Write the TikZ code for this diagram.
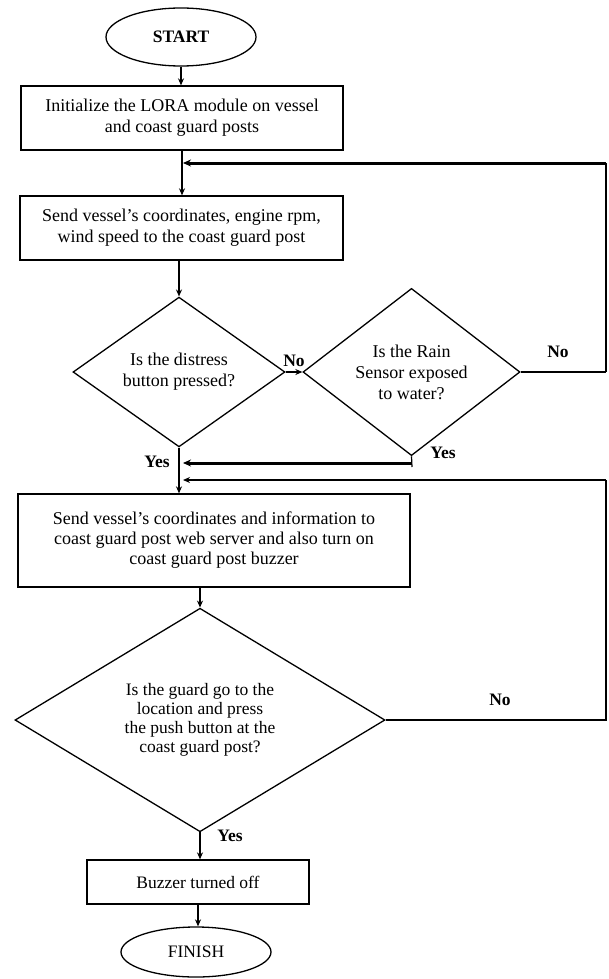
\documentclass[tikz,border=0pt]{standalone}
\usepackage{fontspec}
\setmainfont{Liberation Serif}
\usetikzlibrary{shapes.geometric,arrows.meta}
\begin{document}
\begin{tikzpicture}[x=1pt,y=-1pt,
  every node/.style={font=\fontsize{18}{21}\selectfont},
  box/.style={draw,line width=1.3pt,inner sep=0pt,align=center},
  term/.style={draw,ellipse,line width=1.3pt,inner sep=0pt,minimum width=150pt,minimum height=58pt},
  dec/.style={draw,diamond,line width=1.3pt,inner sep=0pt,align=center},
  lab/.style={font=\fontsize{17.5}{21}\selectfont\bfseries},
  arr/.style={-{Stealth[length=7pt,width=6pt]},line width=1.2pt},
  thickarr/.style={-{Stealth[length=8pt,width=7pt]},line width=3pt},
  ln/.style={line width=1.2pt}]
\useasboundingbox (0,0) rectangle (608,979);

\node[term,font=\fontsize{17.5}{21}\selectfont\bfseries] (start) at (181,37) {START};
\node[box,minimum width=322pt,minimum height=64pt] (b1) at (182,118) {Initialize the LORA module on vessel\\and coast guard posts};
\node[box,minimum width=323pt,minimum height=64pt] (b2) at (181.5,228) {Send vessel’s coordinates, engine rpm,\\wind speed to the coast guard post};
\node[dec,minimum width=212pt,minimum height=142pt] (d1) at (179,372) {Is the distress\\button pressed?};
\node[dec,minimum width=217pt,minimum height=155pt] (d2) at (411.5,372) {Is the Rain\\Sensor exposed\\to water?};
\node[box,minimum width=392pt,minimum height=93pt,font=\fontsize{18}{20}\selectfont] (b3) at (214,540.5) {Send vessel’s coordinates and information to\\coast guard post web server and also turn on\\coast guard post buzzer};
\node[dec,minimum width=370pt,minimum height=220pt,font=\fontsize{17.5}{19}\selectfont] (d3) at (200,720) {Is the guard go to the\\location and press\\the push button at the\\coast guard post?};
\node[box,minimum width=222pt,minimum height=44pt,font=\fontsize{17.5}{21}\selectfont] (b4) at (198,882) {Buzzer turned off};
\node[term,minimum height=50pt,font=\fontsize{17.5}{21}\selectfont] (fin) at (196,952) {FINISH};

\coordinate (j1) at (183,163);
\coordinate (r1) at (606,163);
\coordinate (r2) at (606,372);
\coordinate (y2) at (412,467);
\coordinate (j2) at (183,463);
\coordinate (r3) at (606,480);
\coordinate (r4) at (606,720);
\coordinate (j3) at (183,480);

\draw[arr] (start.south) -- (start.south |- b1.north);
\draw[arr] (b1.south) -- (b1.south |- b2.north);
\draw[ln] (r1) -- (r2);
\draw[thickarr] (r1) -- (j1);
\draw[arr] (d1.north |- b2.south) -- (d1.north);
\draw[arr] (d1.east) -- (d2.west) node[lab,midway,above=1pt] {No};
\draw[ln] (d2.east) -- (r2);
\node[lab] (no2) at (558,352) {No};
\draw[ln] (d2.south) -- (y2);
\draw[thickarr] (d2.south |- j2) -- (j2);
\draw[arr] (d1.south) -- (d1.south |- b3.north);
\node[lab] (yes1) at (157,462) {Yes};
\node[lab] (yes2) at (443,453) {Yes};
\draw[arr] (d3.north |- b3.south) -- (d3.north);
\draw[ln] (d3.east) -- (r4) -- (r3);
\draw[-{Stealth[length=7pt,width=6pt]},line width=2.2pt] (r3) -- (j3);
\node[lab] (no3) at (500,700) {No};
\draw[arr] (d3.south) -- (d3.south |- b4.north);
\node[lab] (yes3) at (230,836) {Yes};
\draw[arr] (b4.south) -- (b4.south |- fin.north);
\end{tikzpicture}
\end{document}
